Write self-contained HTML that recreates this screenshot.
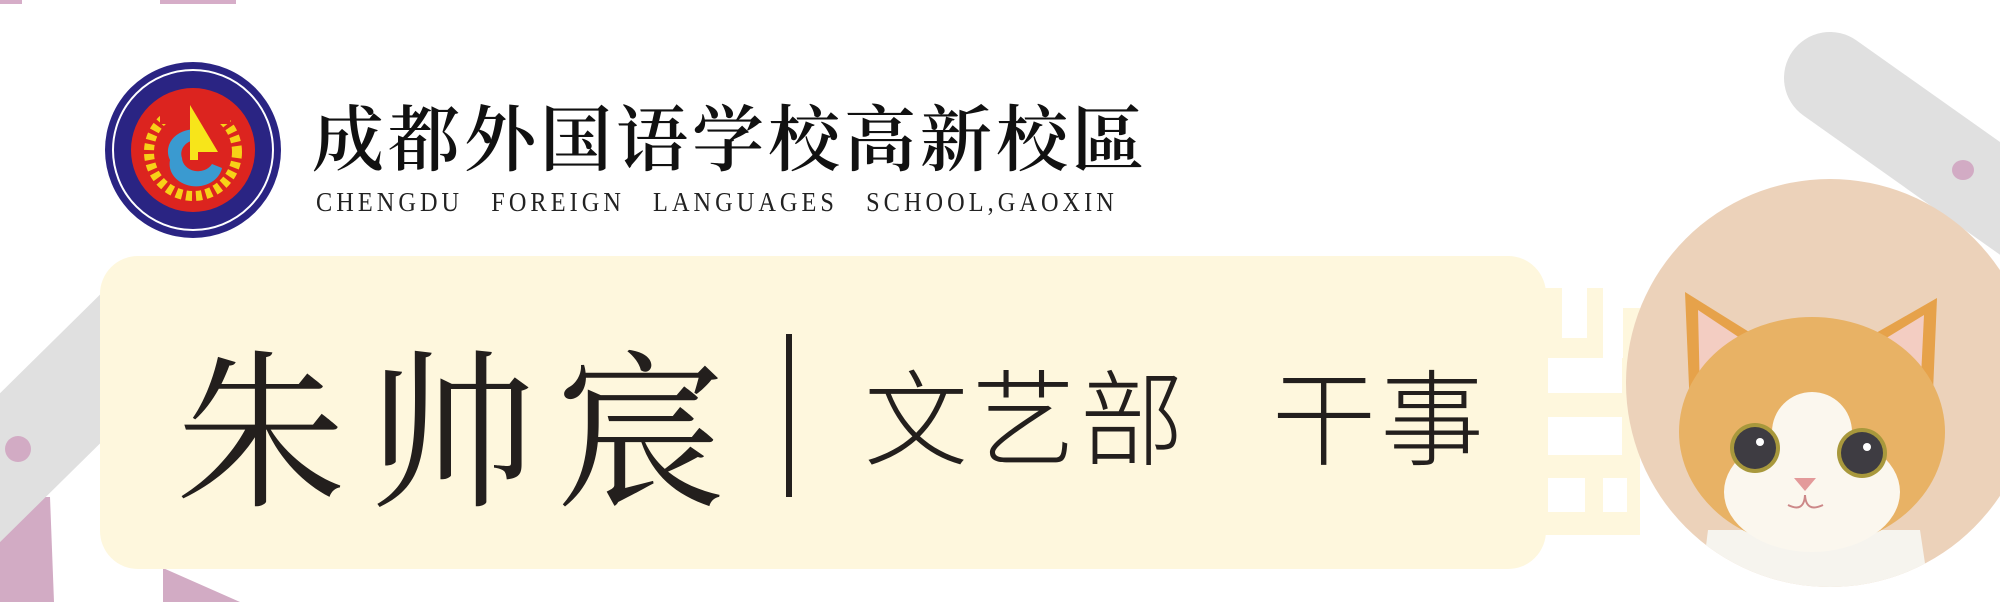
<!DOCTYPE html>
<html><head><meta charset="utf-8"><style>
html,body{margin:0;padding:0;background:#fff}
#root{position:relative;width:2000px;height:602px;overflow:hidden;background:#fff;font-family:"Liberation Serif","Noto Serif CJK SC",serif}
.abs{position:absolute}
</style></head><body>
<div id="root">
<svg class="abs" style="left:0;top:0" width="2000" height="602">
  <rect x="0" y="0" width="22" height="4" fill="#d6adc8"/>
  <rect x="160" y="0" width="76" height="4" fill="#d6adc8"/>
  <polygon points="0,497 50,497 54,602 0,602" fill="#d2abc4"/>
  <line x1="-120" y1="586" x2="170" y2="300" stroke="#e0e0e0" stroke-width="106"/>
  <circle cx="18" cy="449" r="13" fill="#d2abc4"/>
  <polygon points="163,568 240,602 163,602" fill="#d2abc4"/>
  <line x1="1830" y1="78" x2="2080" y2="255" stroke="#e0e0e0" stroke-width="92" stroke-linecap="round"/>
  <ellipse cx="1963" cy="170" rx="11" ry="10" fill="#d2abc4"/>
  <g>
    <rect x="1540" y="288" width="100" height="247" fill="#fef7dd"/>
    <g fill="#fff">
      <rect x="1562" y="288" width="25" height="50"/>
      <rect x="1603" y="288" width="37" height="20"/>
      <rect x="1603" y="308" width="20" height="50"/>
      <rect x="1548" y="358" width="74" height="35"/>
      <rect x="1548" y="417" width="74" height="38"/>
      <rect x="1548" y="478" width="37" height="34"/>
      <rect x="1603" y="478" width="24" height="34"/>
    </g>
  </g>
</svg>
<svg class="abs" style="left:100px;top:60px" width="190" height="180">
  <circle cx="93" cy="90" r="88" fill="#2a2483"/>
  <circle cx="93" cy="90" r="80" fill="none" stroke="#fff" stroke-width="2"/>
  <circle cx="93" cy="90" r="62" fill="#dc241f"/>
  <circle cx="93" cy="92" r="44" fill="none" stroke="#f7d117" stroke-width="10" stroke-dasharray="6 4"/>
  <rect x="60" y="40" width="70" height="24" fill="#dc241f"/>
  <path d="M70 100 a26 22 0 0 1 30 -30 l0 10 a16 14 0 0 0 -18 18 a16 14 0 0 0 30 6 l10 4 a26 22 0 0 1 -52 -8z" fill="#3a9ad0"/>
  <polygon points="90,45 118,92 98,92 98,100 90,100" fill="#f7e51a"/>
</svg>
<div class="abs" style="left:312px;top:94px;font-size:72px;line-height:80px;letter-spacing:4px;font-family:'Noto Serif CJK SC',serif;font-weight:600;color:#111">成都外国语学校高新校區</div>
<div class="abs" style="left:316px;top:188px;font-size:27px;line-height:28px;letter-spacing:4.5px;word-spacing:20px;color:#222;transform:scaleX(0.9);transform-origin:left">CHENGDU FOREIGN LANGUAGES SCHOOL,GAOXIN</div>
<div class="abs" style="left:100px;top:256px;width:1446px;height:313px;border-radius:38px;background:#fef7dd"></div>
<div class="abs" style="left:176px;top:320px;font-size:170px;line-height:200px;letter-spacing:20px;font-family:'Noto Serif CJK SC',serif;color:#231f1d">朱帅宸</div>
<div class="abs" style="left:786px;top:334px;width:6px;height:163px;background:#231f1d"></div>
<div class="abs" style="left:864px;top:352px;font-size:104px;line-height:120px;letter-spacing:4px;font-family:'Noto Sans CJK SC',sans-serif;font-weight:300;color:#231f1d">文艺部<span style="margin-left:84px">干事</span></div>
<svg class="abs" style="left:1620px;top:170px" width="380" height="432">
  <circle cx="210" cy="213" r="204" fill="#ecd2ba"/>
  <clipPath id="cc"><circle cx="210" cy="213" r="204"/></clipPath>
  <g clip-path="url(#cc)">
    <path d="M78 440 L88 360 L300 360 L312 440Z" fill="#f6f4ee"/>
    <polygon points="65,122 150,175 70,240" fill="#e6a24a"/>
    <polygon points="78,140 135,178 80,225" fill="#f3cdc2"/>
    <polygon points="317,128 235,175 312,245" fill="#e6a24a"/>
    <polygon points="304,145 250,178 300,228" fill="#f3cdc2"/>
    <ellipse cx="192" cy="262" rx="133" ry="115" fill="#e8b265"/>
    <ellipse cx="192" cy="322" rx="88" ry="60" fill="#fbf7ee"/>
    <ellipse cx="192" cy="262" rx="40" ry="40" fill="#fbf7ee"/>
    <circle cx="135" cy="278" r="25" fill="#a8983c"/><circle cx="135" cy="278" r="21" fill="#3e3c42"/><circle cx="140" cy="272" r="4" fill="#fff"/>
    <circle cx="242" cy="283" r="25" fill="#a8983c"/><circle cx="242" cy="283" r="21" fill="#3e3c42"/><circle cx="247" cy="277" r="4" fill="#fff"/>
    <path d="M174 308 l22 0 l-11 13z" fill="#e39a9a"/>
    <path d="M168 335 q16 8 17 -10 q1 18 18 10" fill="none" stroke="#c88" stroke-width="2"/>
  </g>
</svg>
</div>
</body></html>
